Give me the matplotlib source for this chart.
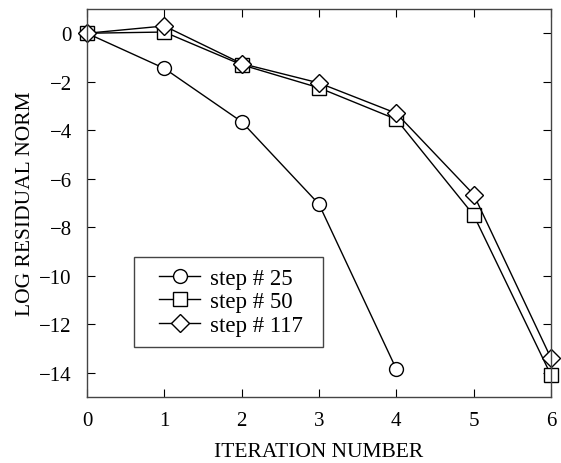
import matplotlib
matplotlib.use("Agg")
from matplotlib import pyplot as plt
from matplotlib.patches import Rectangle

plt.rcParams['font.family'] = ['Liberation Serif', 'DejaVu Serif']

iters_25 = [0, 1, 2, 3, 4]
res_25 = [0.0, -1.45, -3.65, -7.05, -13.85]
iters_50 = [0, 1, 2, 3, 4, 5, 6]
res_50 = [0.0, 0.05, -1.3, -2.25, -3.55, -7.5, -14.1]
iters_117 = [0, 1, 2, 3, 4, 5, 6]
res_117 = [0.0, 0.3, -1.25, -2.05, -3.3, -6.65, -13.4]

fig = plt.figure(figsize=(5.61, 4.64), dpi=100)
ax = fig.add_axes([87/561, 66/464, 464/561, 388/464])

kw = dict(color='black', lw=1.0, markerfacecolor='white', markeredgecolor='black',
          markeredgewidth=1.0, clip_on=False)
ax.plot(iters_25, res_25, marker='o', markersize=10, label='step # 25', **kw)
ax.plot(iters_50, res_50, marker='s', markersize=9.5, label='step # 50', **kw)
ax.plot(iters_117, res_117, marker='D', markersize=9, label='step # 117', **kw)

ax.set_xlim(0, 6)
ax.set_ylim(-15, 1)
ax.set_xticks(range(0, 7))
ax.set_yticks(range(-14, 1, 2))
ax.tick_params(direction='in', top=True, right=True, length=6, labelsize=15)
ax.tick_params(axis='x', pad=10)
ax.tick_params(axis='y', pad=11)
for s in ax.spines.values():
    s.set_linewidth(1.0)
    s.set_color('#444444')

ax.set_xlabel('ITERATION NUMBER', fontsize=15.5, labelpad=9)
ax.set_ylabel('LOG RESIDUAL NORM', fontsize=15.5, labelpad=3)

# legend box drawn separately so the padding matches
ax.add_patch(Rectangle((0.101, 0.129), 0.408, 0.233, transform=ax.transAxes,
                       facecolor='white', edgecolor='#444444', lw=1.0, zorder=4))
leg = ax.legend(loc='center', bbox_to_anchor=(0.31, 0.245), borderaxespad=0,
                fontsize=16.5, frameon=False, handlelength=1.8, borderpad=0,
                labelspacing=0.09, handletextpad=0.4)
leg.set_zorder(5)

fig.savefig('out.png', dpi=100)
